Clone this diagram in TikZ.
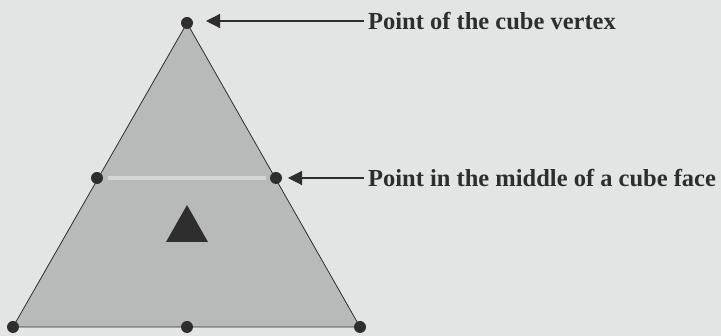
\documentclass[tikz,border=0pt]{standalone}
\usepackage{fontspec}
\setmainfont{Liberation Serif}
\usetikzlibrary{arrows.meta}
\definecolor{bg}{HTML}{E3E5E5}
\definecolor{face}{HTML}{B8B9B9}
\definecolor{ink}{HTML}{2E2E2E}
\definecolor{seam}{HTML}{D4D5D5}
\tikzset{
  pt/.style={circle,fill=ink,inner sep=0pt,minimum size=12pt},
  lbl/.style={anchor=west,inner sep=0pt,text=ink,font=\fontsize{24.5}{28}\selectfont\bfseries},
  pointer/.style={draw=ink,line width=1.2pt,-{Triangle[length=14pt,width=14pt]}}
}
\begin{document}
\begin{tikzpicture}[x=1pt,y=-1pt]
\fill[bg] (0,0) rectangle (721,336);
\useasboundingbox (0,0) rectangle (721,336);
% triangle
\coordinate (T) at (187,23);
\coordinate (BL) at (13,327);
\coordinate (BR) at (360,327);
\fill[face,draw=ink,line width=0.8pt] (T) -- (BR) -- (BL) -- cycle;
\draw[seam,line width=3.5pt] (108,178) -- (266,178);
% small triangle
\fill[ink] (187,205) -- (208,242) -- (166,242) -- cycle;
% points
\node[pt] (top) at (187,23) {};
\node[pt] (ml) at (97,178) {};
\node[pt] (mr) at (276,178) {};
\node[pt] (bl) at (13,327) {};
\node[pt] (bm) at (187,327) {};
\node[pt] (br) at (360,327) {};
% labels
\node[lbl] (l1) at (368,21) {Point of the cube vertex};
\node[lbl] (l2) at (368,178) {Point in the middle of a cube face};
\coordinate (a1) at (206,21);
\coordinate (a2) at (288,178);
\draw[pointer] (l1.west) ++(-4,0) -- (a1);
\draw[pointer] (l2.west) ++(-4,0) -- (a2);
\end{tikzpicture}
\end{document}
